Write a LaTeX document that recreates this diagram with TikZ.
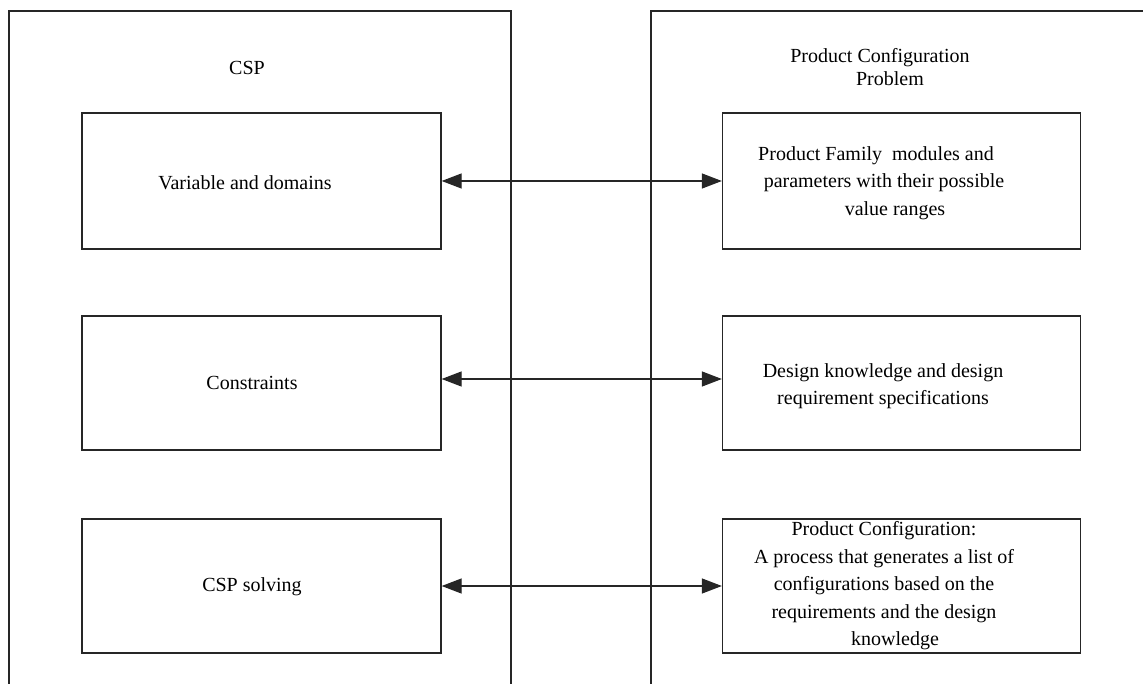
\documentclass[tikz,border=0pt]{standalone}
\usepackage{fontspec}
\setmainfont{Liberation Serif}
\usetikzlibrary{arrows.meta,calc}
\begin{document}
\begin{tikzpicture}[x=1pt,y=-1pt,
  frame/.style={line width=1.3pt, draw=black!85},
  box/.style={draw=black!85, line width=1.3pt, rectangle, inner sep=0pt,
    minimum width=359pt, minimum height=134pt},
  txt/.style={font=\fontsize{20}{27.5}\selectfont, align=center, inner sep=0pt},
  link/.style={line width=1.3pt, draw=black!85,
    {Triangle[length=20pt,width=15pt]}-{Triangle[length=20pt,width=15pt]}}]
\useasboundingbox (0,0) rectangle (1143,684);

% the two open panels
\draw[frame] (9,684) -- (9,11) -- (511,11) -- (511,684);
\draw[frame] (651,684) -- (651,11) -- (1143,11);

% panel titles
\node[txt] (csp) at (247,68) {CSP};
\node[txt, font=\fontsize{20}{23}\selectfont] (pcp) at (880,67.5)
  {Product Configuration\\\hspace*{20pt}Problem};

% CSP side
\node[box, minimum height=136pt] (lb1) at (261.5,181) {};
\node[box] (lb2) at (261.5,383) {};
\node[box] (lb3) at (261.5,586) {};
\node[txt] (lt1) at (245,183) {Variable and domains};
\node[txt] (lt2) at (252,383) {Constraints};
\node[txt] (lt3) at (252,587) {CSP solving};

% product configuration side
\node[box, minimum width=358pt, minimum height=136pt] (rb1) at (901.5,181) {};
\node[box, minimum width=358pt] (rb2) at (901.5,383) {};
\node[box, minimum width=358pt] (rb3) at (901.5,586) {};
\node[txt] (rt1) at (884,183)
  {Product Family\ \ modules and\hspace*{16pt}\\
   parameters with their possible\\
   \hspace*{22pt}value ranges};
\node[txt] (rt2) at (883,386)
  {Design knowledge and design\\requirement specifications};
\node[txt] (rt3) at (884,586)
  {Product Configuration:\\
   A process that generates a list of\\
   configurations based on the\\
   requirements and the design\\
   \hspace*{22pt}knowledge};

% correspondences
\draw[link] (lb1.east) -- (rb1.west);
\draw[link] ($(lb2.east)+(0,-4)$) -- ($(rb2.west)+(0,-4)$);
\draw[link] (lb3.east) -- (rb3.west);
\end{tikzpicture}
\end{document}
